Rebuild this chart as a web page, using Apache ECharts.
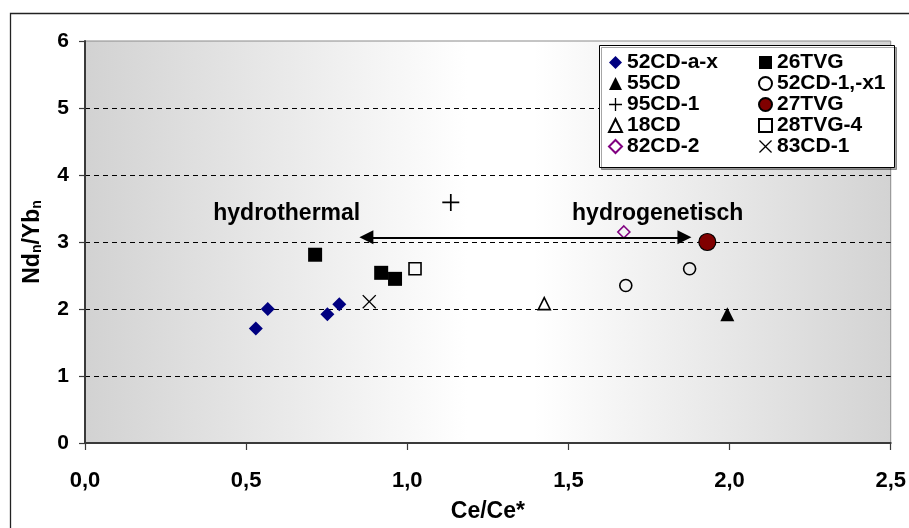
<!DOCTYPE html>
<html>
<head>
<meta charset="utf-8">
<script src="https://cdn.jsdelivr.net/npm/echarts@6/dist/echarts.min.js"></script>
<style>html,body{margin:0;padding:0;background:#fff}#c{width:909px;height:528px}</style>
</head>
<body>
<div id="c"></div>
<script>
// ---- data (Ce/Ce*, Nd_n/Yb_n) ----
const s52CDax   = [[0.530,1.71],[0.567,2.00],[0.752,1.92],[0.789,2.07]];
const s26TVG    = [[0.714,2.81],[0.919,2.54],[0.962,2.45]];
const s55CD     = [[1.993,1.92]];
const s52CD1x1  = [[1.678,2.35],[1.876,2.60]];
const s95CD1    = [[1.135,3.59]];
const s27TVG    = [[1.931,3.00]];
const s18CD     = [[1.425,2.08]];
const s28TVG4   = [[1.024,2.60]];
const s82CD2    = [[1.672,3.15]];
const s83CD1    = [[0.882,2.11]];
const xTicks = [0, 0.5, 1.0, 1.5, 2.0, 2.5];
const yTicks = [0, 1, 2, 3, 4, 5, 6];
const arrowFrom = [0.873, 3.07];
const arrowTo   = [1.860, 3.07];
const noteHydrothermal = [0.626, 3.42];
const noteHydrogenetisch = [1.777, 3.43];

const FONT = "'Liberation Sans', Arial, sans-serif";
const PLUS = 'path://M0,45 L45,45 L45,0 L55,0 L55,45 L100,45 L100,55 L55,55 L55,100 L45,100 L45,55 L0,55 Z';
const CROSS = 'path://M0,7 L7,0 L50,43 L93,0 L100,7 L57,50 L100,93 L93,100 L50,57 L7,100 L0,93 L43,50 Z';

function sc(name, data, symbol, size, fill, stroke, bw) {
  return {
    name, type: 'scatter', data, symbol, symbolSize: size,
    itemStyle: { color: fill, borderColor: stroke, borderWidth: bw, opacity: 1 },
    emphasis: { disabled: true }, z: 3
  };
}
const series = [
  sc('52CD-a-x', s52CDax, 'diamond', 14, '#000080', '#000080', 0),
  sc('26TVG', s26TVG, 'rect', 14, '#000', '#000', 0),
  sc('55CD', s55CD, 'triangle', 14, '#000', '#000', 0),
  sc('52CD-1,-x1', s52CD1x1, 'circle', 12, 'rgba(0,0,0,0)', '#000', 1.6),
  sc('95CD-1', s95CD1, PLUS, 17, '#000', '#000', 0),
  sc('27TVG', s27TVG, 'circle', 17, '#800000', '#000', 1.2),
  sc('18CD', s18CD, 'triangle', 12, 'rgba(0,0,0,0)', '#000', 1.6),
  sc('28TVG-4', s28TVG4, 'rect', 12, 'rgba(0,0,0,0)', '#000', 1.6),
  sc('82CD-2', s82CD2, 'diamond', 12, 'rgba(0,0,0,0)', '#800080', 1.6),
  sc('83CD-1', s83CD1, CROSS, 14, '#000', '#000', 0)
];
// annotations in data coordinates
series[0].markLine = {
  silent: true, animation: false,
  symbol: ['path://M50,0 L100,100 L0,100 Z', 'path://M50,0 L100,100 L0,100 Z'],
  symbolSize: [14, 14],
  lineStyle: { color: '#000', width: 2, type: 'solid' },
  label: { show: false },
  data: [[{ coord: arrowFrom }, { coord: arrowTo }]]
};
series[0].markPoint = {
  silent: true, animation: false, symbol: 'circle', symbolSize: 0,
  label: { show: true, position: 'inside', color: '#000', fontFamily: FONT, fontWeight: 'bold', fontSize: 23, formatter: p => p.name },
  data: [
    { name: 'hydrothermal', coord: noteHydrothermal },
    { name: 'hydrogenetisch', coord: noteHydrogenetisch }
  ]
};

const legendCommon = {
  orient: 'vertical', padding: 0, itemGap: 0, itemWidth: 13, itemHeight: 13,
  selectedMode: false, z: 10,
  textStyle: { fontFamily: FONT, fontWeight: 'bold', fontSize: 21, color: '#000', lineHeight: 21 }
};

const chart = echarts.init(document.getElementById('c'), null, { renderer: 'canvas' });
chart.setOption({
  animation: false,
  backgroundColor: '#fff',
  grid: {
    left: 85, right: 14, top: 41, bottom: 83, show: true,
    borderColor: '#8a8a8a', borderWidth: 1,
    backgroundColor: new echarts.graphic.LinearGradient(0, 0, 1, 0, [
      { offset: 0, color: '#d2d2d2' },
      { offset: 0.475, color: '#ffffff' },
      { offset: 0.557, color: '#ffffff' },
      { offset: 1, color: '#d3d3d3' }
    ])
  },
  xAxis: {
    type: 'value', min: xTicks[0], max: xTicks[xTicks.length - 1], interval: 0.5,
    name: 'Ce/Ce*', nameLocation: 'middle', nameGap: 57,
    nameTextStyle: { fontFamily: FONT, fontWeight: 'bold', fontSize: 23, color: '#000' },
    axisLine: { show: true, onZero: false, lineStyle: { color: '#3a3a3a', width: 2 } },
    axisTick: { show: true, inside: false, length: 7, lineStyle: { color: '#3a3a3a', width: 1.2 } },
    axisLabel: { margin: 27, fontFamily: FONT, fontWeight: 'bold', fontSize: 22, color: '#000',
      formatter: v => v.toFixed(1).replace('.', ',') },
    splitLine: { show: false }
  },
  yAxis: {
    type: 'value', min: yTicks[0], max: yTicks[yTicks.length - 1], interval: 1,
    name: '{m|Nd}{s|n}{m|/Yb}{s|n}', nameLocation: 'middle', nameGap: 41, nameRotate: 90,
    nameTextStyle: {
      fontFamily: FONT, fontWeight: 'bold', color: '#000',
      rich: {
        m: { fontFamily: FONT, fontWeight: 'bold', fontSize: 23, color: '#000', lineHeight: 26, verticalAlign: 'bottom' },
        s: { fontFamily: FONT, fontWeight: 'bold', fontSize: 14, color: '#000', lineHeight: 16, verticalAlign: 'bottom' }
      }
    },
    axisLine: { show: true, onZero: false, lineStyle: { color: '#3a3a3a', width: 2 } },
    axisTick: { show: true, inside: false, length: 6, lineStyle: { color: '#3a3a3a', width: 1.2 } },
    axisLabel: { margin: 16, fontFamily: FONT, fontWeight: 'bold', fontSize: 21, color: '#000',
      formatter: v => String(v) },
    splitLine: { show: true, showMinLine: false, showMaxLine: false, lineStyle: { color: '#000', width: 1, type: [5, 4] } }
  },
  legend: [
    Object.assign({}, legendCommon, { left: 608, top: 52, data: ['52CD-a-x', '55CD', '95CD-1', '18CD', '82CD-2'] }),
    Object.assign({}, legendCommon, { left: 758, top: 52, data: ['26TVG', '52CD-1,-x1', '27TVG', '28TVG-4', '83CD-1'] })
  ],
  graphic: [
    { type: 'rect', z: 100, zlevel: 0, silent: true,
      shape: { x: 10.5, y: 13.5, width: 940, height: 560 },
      style: { fill: 'none', stroke: '#222', lineWidth: 1.3 } },
    { type: 'rect', z: 5, silent: true,
      shape: { x: 599.5, y: 45.5, width: 295, height: 122 },
      style: { fill: '#fff', stroke: '#000', lineWidth: 1,
        shadowColor: 'rgba(0,0,0,0.35)', shadowOffsetX: 2, shadowOffsetY: 2, shadowBlur: 0 } }
  ],
  series
});
</script>
</body>
</html>
